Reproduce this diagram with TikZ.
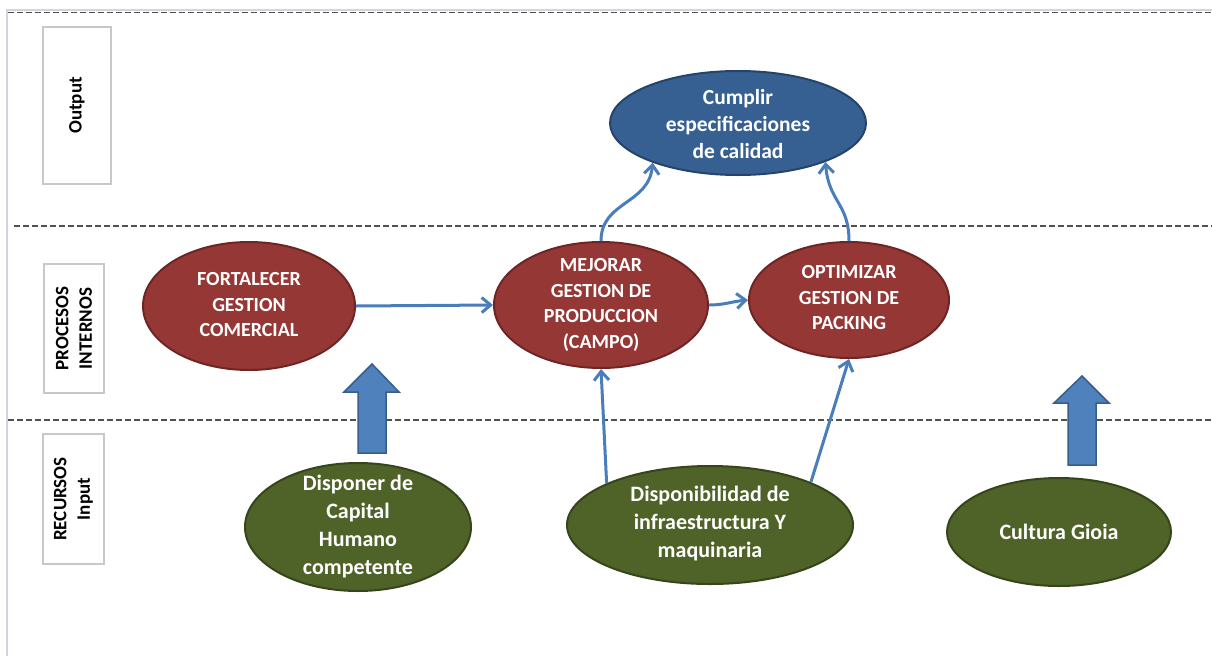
\documentclass[tikz,border=0pt]{standalone}
\usepackage{fontspec}
\setmainfont{Carlito}
\usetikzlibrary{shapes.geometric,arrows.meta}
\definecolor{redf}{HTML}{953735}
\definecolor{redd}{HTML}{6E2624}
\definecolor{bluef}{HTML}{366092}
\definecolor{blued}{HTML}{24446B}
\definecolor{greenf}{HTML}{4F6228}
\definecolor{greend}{HTML}{37451B}
\definecolor{arrc}{HTML}{4A7EBB}
\definecolor{blkf}{HTML}{4F81BD}
\definecolor{blkd}{HTML}{385D8A}
\definecolor{boxc}{HTML}{C8C8C8}
\definecolor{dashc}{HTML}{505050}
\definecolor{framec}{HTML}{D0D4DC}
\begin{document}
\begin{tikzpicture}[x=1pt,y=-1pt,
  ell/.style={ellipse, inner sep=0pt, line width=2pt},
  redell/.style={ell, fill=redf, draw=redd},
  blueell/.style={ell, fill=bluef, draw=blued},
  greenell/.style={ell, fill=greenf, draw=greend},
  txtred/.style={text=white, align=center, inner sep=0pt, font=\bfseries\fontsize{20}{25.5}\selectfont},
  txtblue/.style={text=white, align=center, inner sep=0pt, font=\bfseries\fontsize{21.5}{27}\selectfont},
  txtgreen/.style={text=white, align=center, inner sep=0pt, font=\bfseries\fontsize{22}{28}\selectfont},
  conn/.style={draw=arrc, line width=3pt, -{Straight Barb[length=9pt,width=15pt]}},
  blockarr/.style={fill=blkf, draw=blkd, line width=1.5pt, line join=miter},
  labbox/.style={draw=boxc, line width=1.2pt, rotate=90, align=center, inner sep=0pt, font=\bfseries\fontsize{19}{23.5}\selectfont},
  dashline/.style={draw=dashc, line width=1.6pt, dash pattern=on 6pt off 3pt},
  frameline/.style={draw=framec, line width=1.2pt}
]
\useasboundingbox (0,0) rectangle (1212,656);

% frame and separators
\draw[frameline] (7,656) -- (7,10) -- (1212,10);
\draw[dashline] (8,12.5) -- (1212,12.5);
\draw[dashline] (14,226) -- (1212,226);
\draw[dashline] (8,420) -- (1212,420);

% row labels
\node[labbox, minimum width=157pt, minimum height=68pt] (lout) at (77,105.5) {Output};
\node[labbox, minimum width=129pt, minimum height=60pt] (lproc) at (74,328.5) {PROCESOS\\INTERNOS};
\node[labbox, minimum width=130pt, minimum height=61pt] (lrec) at (73.5,499) {RECURSOS\\Input};

% ellipses
\node[blueell, minimum width=256pt, minimum height=104pt] (cump) at (738,123) {};
\node[txtblue] (cumpt) at (738,124) {Cumplir\\especificaciones\\de calidad};

\node[redell, minimum width=212pt, minimum height=128pt] (fort) at (249,306) {};
\node[txtred] (fortt) at (249,305) {FORTALECER\\GESTION\\COMERCIAL};

\node[redell, minimum width=214pt, minimum height=126pt] (mej) at (601,305) {};
\node[txtred] (mejt) at (601,305) {MEJORAR\\GESTION DE\\PRODUCCION\\(CAMPO)};

\node[redell, minimum width=200pt, minimum height=116pt] (opt) at (849,300) {};
\node[txtred] (optt) at (849,298) {OPTIMIZAR\\GESTION DE\\PACKING};

\node[greenell, minimum width=226pt, minimum height=128pt] (cap) at (358,527) {};
\node[txtgreen] (capt) at (358,527) {Disponer de\\Capital\\Humano\\competente};

\node[greenell, minimum width=286pt, minimum height=118pt] (disp) at (710,525) {};
\node[txtgreen] (dispt) at (710,524) {Disponibilidad de\\infraestructura Y\\maquinaria};

\node[greenell, minimum width=224pt, minimum height=108pt] (cult) at (1059,532) {};
\node[txtgreen] (cultt) at (1059,532) {Cultura Gioia};

% connectors
\draw[conn] (fort.east) -- (mej.west);
\draw[conn] (mej.east) to[out=0,in=185] (opt.west);
\draw[conn] (mej.north) .. controls +(0,-40) and +(-4,42) .. (cump.205);
\draw[conn] (opt.north) .. controls +(0,-38) and +(3,40) .. (cump.336);
\draw[conn] (disp.158) -- (mej.south);
\draw[conn] (disp.23) -- (opt.south);

% block arrows
\draw[blockarr] (358,453) -- (358,392) -- (344,392) -- (372,364) -- (399,392) -- (386,392) -- (386,453) -- cycle;
\draw[blockarr] (1068,465) -- (1068,403) -- (1054,403) -- (1082,376) -- (1109,403) -- (1096,403) -- (1096,465) -- cycle;
\end{tikzpicture}
\end{document}
